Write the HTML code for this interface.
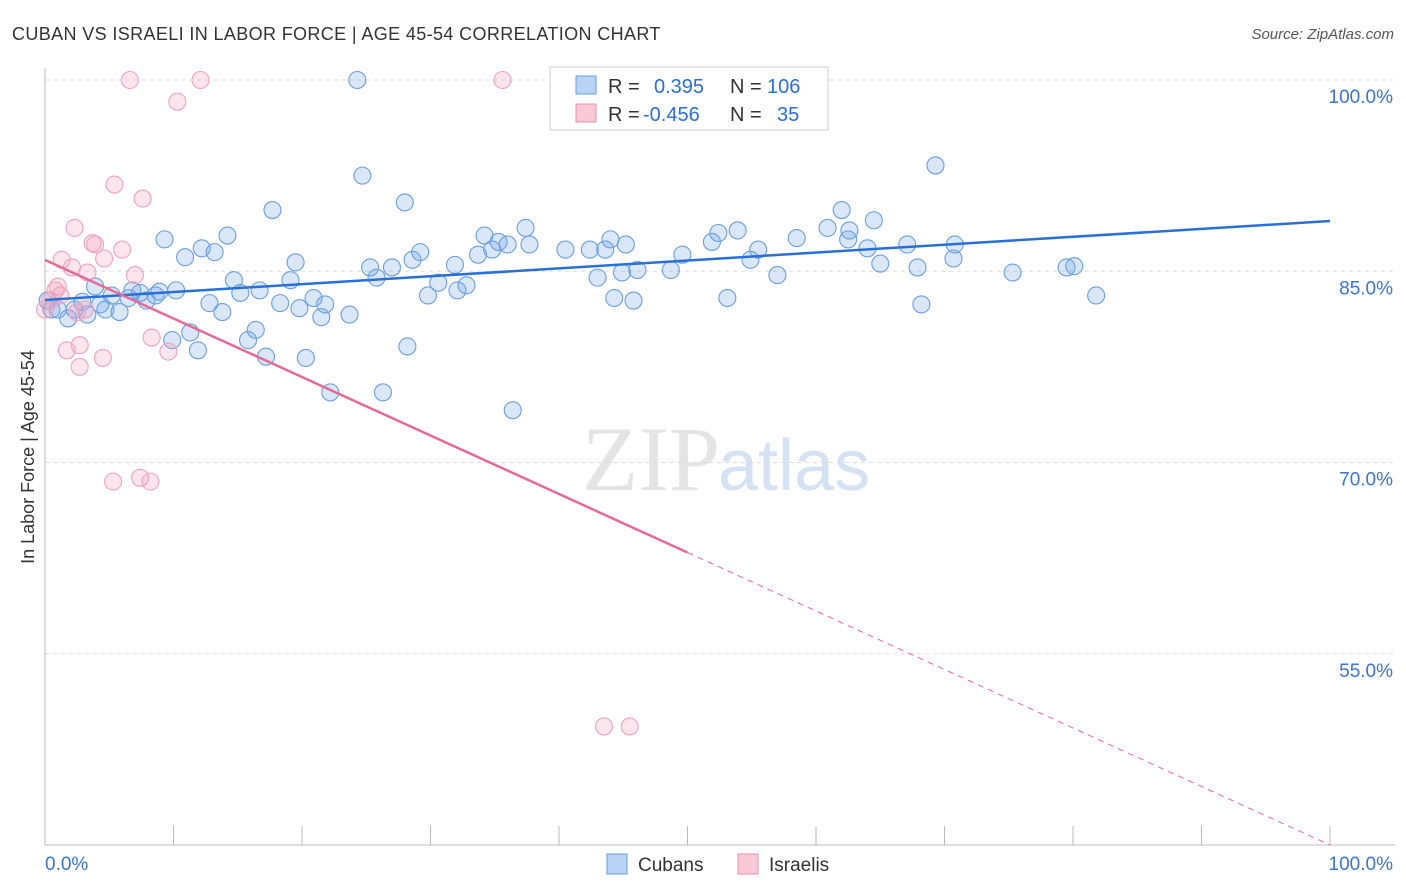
<!DOCTYPE html>
<html><head><meta charset="utf-8"><style>
body{margin:0;background:#fff;font-family:"Liberation Sans",sans-serif;}
#wrap{position:relative;width:1406px;height:892px;overflow:hidden;}
</style></head><body>
<div id="wrap">
<svg id="svg" width="1406" height="892" xmlns="http://www.w3.org/2000/svg">
<text x="12" y="40" font-size="18" fill="#333" letter-spacing="0.37">CUBAN VS ISRAELI IN LABOR FORCE | AGE 45-54 CORRELATION CHART</text>
<text x="1394" y="39" font-size="15" fill="#555" font-style="italic" text-anchor="end">Source: ZipAtlas.com</text>
<text x="720" y="490" font-size="92" fill="#e4e4e4" text-anchor="end" font-family="Liberation Serif">ZIP</text>
<text x="718" y="490" font-size="72" fill="#d4e2f4">atlas</text>
<text transform="translate(34,457) rotate(-90)" font-size="18" fill="#333" text-anchor="middle">In Labor Force | Age 45-54</text>
<g id="grid"></g><g id="marks"></g><g id="lines"></g>
<g>
<rect x="550" y="67" width="278" height="63" fill="#fff" stroke="#ccc"/>
<rect x="576" y="76" width="20" height="18" fill="#b9d3f5" stroke="#6a9ee0"/>
<rect x="576" y="104" width="20" height="18" fill="#f9c8d7" stroke="#ea8fae"/>
<text x="608" y="93" font-size="20" fill="#333">R = <tspan x="654" fill="#2a6fd6">0.395</tspan><tspan x="730" fill="#333">N =</tspan><tspan x="767" fill="#2a6fd6">106</tspan></text>
<text x="608" y="121" font-size="20" fill="#333">R = <tspan x="643" fill="#2a6fd6">-0.456</tspan><tspan x="730" fill="#333">N =</tspan><tspan x="777" fill="#2a6fd6">35</tspan></text>
</g>
<g>
<rect x="607" y="854" width="20" height="20" fill="#b9d3f5" stroke="#6a9ee0"/>
<text x="638" y="871" font-size="19" fill="#333">Cubans</text>
<rect x="738" y="854" width="20" height="20" fill="#f9c8d7" stroke="#ea8fae"/>
<text x="769" y="871" font-size="19" fill="#333">Israelis</text>
</g>
</svg></div>
<script>
const yTicks=[100,85,70,55];
const xTickLabels=["0.0%","100.0%"];
const cubanX=[0.2,0.5,1.0,1.8,2.3,2.9,3.3,3.9,4.3,4.7,5.2,5.8,6.5,6.8,7.4,7.9,8.6,8.9,9.3,9.9,10.2,10.9,11.3,11.9,12.2,12.8,13.2,13.8,14.2,14.7,15.2,15.8,16.4,16.7,17.2,17.7,18.3,19.1,19.5,19.8,20.3,20.9,21.5,21.8,22.2,23.7,24.3,24.7,25.3,25.8,26.3,27.0,28.0,28.2,28.6,29.2,29.8,30.6,31.9,32.1,32.8,33.7,34.2,34.8,35.3,36.0,36.4,37.4,37.7,40.5,42.4,43.0,43.6,44.0,44.3,44.9,45.2,45.8,46.1,48.7,49.6,51.9,52.4,53.1,53.9,54.9,55.5,57.0,58.5,60.9,62.0,62.5,62.6,64.0,64.5,65.0,67.1,67.9,68.2,69.3,70.7,70.8,75.3,79.5,80.1,81.8];
const cubanY=[82.7,82.0,82.0,81.3,82.0,82.6,81.6,83.8,82.4,82.0,83.1,81.8,82.9,83.5,83.3,82.7,83.1,83.4,87.5,79.6,83.5,86.1,80.2,78.8,86.8,82.5,86.5,81.8,87.8,84.3,83.3,79.6,80.4,83.5,78.3,89.8,82.5,84.3,85.7,82.1,78.2,82.9,81.4,82.4,75.5,81.6,100,92.5,85.3,84.5,75.5,85.3,90.4,79.1,85.9,86.5,83.1,84.1,85.5,83.5,83.9,86.3,87.8,86.7,87.3,87.1,74.1,88.4,87.1,86.7,86.7,84.5,86.7,87.5,82.9,84.9,87.1,82.7,85.1,85.1,86.3,87.3,88.0,82.9,88.2,85.9,86.7,84.7,87.6,88.4,89.8,87.5,88.2,86.8,89.0,85.6,87.1,85.3,82.4,93.3,86.0,87.1,84.9,85.3,85.4,83.1];
const israeliX=[0.0,0.4,0.8,1.0,1.2,1.3,1.7,2.1,2.3,2.5,2.7,2.7,3.1,3.3,3.7,3.9,4.5,4.6,5.3,5.4,6.0,6.6,7.0,7.6,7.4,8.2,8.3,9.6,10.3,12.1,35.6,43.5,45.5];
const israeliY=[82.0,82.7,83.5,83.8,83.1,85.9,78.8,85.3,88.4,81.8,79.2,77.5,82.0,84.9,87.2,87.1,78.2,86.0,68.5,91.8,86.7,100,84.7,90.7,68.8,68.5,79.8,78.7,98.3,100,100,49.3,49.3];
const cubanFit=[82.75,88.94];
const israeliFit=[85.88,40.0];
const NS="http://www.w3.org/2000/svg";
const X=v=>45+v*12.85, Y=v=>80+(100-v)*12.75;
function mk(t,a,p){const e=document.createElementNS(NS,t);for(const k in a)e.setAttribute(k,a[k]);document.getElementById(p).appendChild(e);return e;}
yTicks.forEach(t=>{
 const l=mk('line',{x1:45,x2:1395,y1:Y(t),y2:Y(t),stroke:'#ddd','stroke-dasharray':'4,4'},'grid');
 
 
 const tx=mk('text',{x:1393,y:Y(t)+23,'font-size':19,fill:'#3a75d4','text-anchor':'end'},'grid');tx.textContent=t.toFixed(1)+'%';
 
 
});
mk('line',{x1:45,x2:45,y1:68,y2:845,stroke:'#bbb'},'grid');
mk('line',{x1:45,x2:1395,y1:845,y2:845,stroke:'#bbb'},'grid');
for(let i=0;i<=10;i++){mk('line',{x1:X(i*10),x2:X(i*10),y1:826,y2:845,stroke:'#bbb'},'grid');}
const xl=mk('text',{x:45,y:870,'font-size':19,fill:'#3a75d4'},'grid');xl.textContent=xTickLabels[0];


const xr=mk('text',{x:1393,y:870,'font-size':19,fill:'#3a75d4','text-anchor':'end'},'grid');xr.textContent=xTickLabels[1];


cubanX.forEach((v,i)=>{const c=mk('circle',{cx:X(v),cy:Y(cubanY[i]),r:8.5,fill:'rgba(120,170,235,0.28)',stroke:'#6a9ee0','stroke-width':1.1},'marks');
 
 });
israeliX.forEach((v,i)=>{const c=mk('circle',{cx:X(v),cy:Y(israeliY[i]),r:8.5,fill:'rgba(245,160,190,0.28)',stroke:'#eea3bc','stroke-width':1.1},'marks');
 
 });
const bl=mk('line',{x1:X(0),y1:Y(cubanFit[0]),x2:X(100),y2:Y(cubanFit[1]),stroke:'#2a6fd6','stroke-width':2.5},'lines');


const pm=israeliFit[0]+(israeliFit[1]-israeliFit[0])*0.5;
const pl=mk('line',{x1:X(0),y1:Y(israeliFit[0]),x2:X(50),y2:Y(pm),stroke:'#e56a95','stroke-width':2.5},'lines');


const pd=mk('line',{x1:X(50),y1:Y(pm),x2:X(100),y2:Y(israeliFit[1]),stroke:'#e56a95','stroke-width':1,'stroke-dasharray':'6,5'},'lines');


</script>
</body></html>
